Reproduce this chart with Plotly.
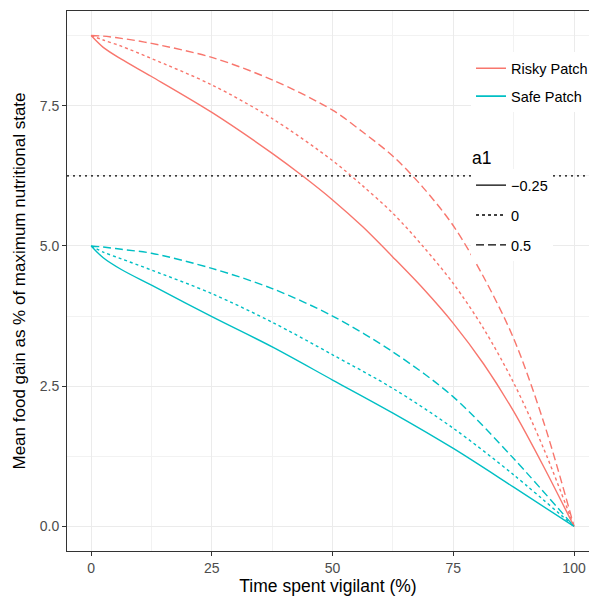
import plotly.graph_objects as go

# --- data ---
risky_m025_x = [0, 2.5, 6.25, 12.5, 25, 37.5, 43.75, 50, 56.25, 62.5, 68.75, 75, 81.25, 87.5, 93.75, 100]
risky_m025_y = [8.75, 8.54, 8.33, 8.02, 7.38, 6.65, 6.25, 5.82, 5.34, 4.80, 4.24, 3.62, 2.90, 2.05, 1.06, 0.0]

risky_0_x = [0, 2.5, 6.25, 12.5, 25, 37.5, 50, 56.25, 62.5, 68.75, 75, 81.25, 87.5, 93.75, 100]
risky_0_y = [8.75, 8.67, 8.56, 8.34, 7.87, 7.27, 6.52, 6.07, 5.58, 4.99, 4.33, 3.53, 2.56, 1.38, 0.0]

risky_05_x = [0, 2.5, 6.25, 12.5, 25, 37.5, 50, 56.25, 62.5, 68.75, 75, 81.25, 87.5, 93.75, 100]
risky_05_y = [8.75, 8.74, 8.70, 8.61, 8.36, 7.96, 7.42, 7.03, 6.60, 6.04, 5.36, 4.45, 3.35, 1.85, 0.0]

safe_m025_x = [0, 2.5, 6.25, 12.5, 25, 37.5, 50, 62.5, 75, 87.5, 100]
safe_m025_y = [5.0, 4.79, 4.58, 4.30, 3.74, 3.20, 2.61, 2.02, 1.39, 0.70, 0.0]

safe_0_x = [0, 2.5, 6.25, 12.5, 25, 37.5, 50, 62.5, 75, 87.5, 100]
safe_0_y = [5.0, 4.89, 4.77, 4.57, 4.15, 3.64, 3.06, 2.46, 1.75, 0.92, 0.0]

safe_05_x = [0, 2.5, 6.25, 12.5, 25, 37.5, 50, 62.5, 75, 87.5, 100]
safe_05_y = [5.0, 4.98, 4.94, 4.87, 4.60, 4.24, 3.75, 3.11, 2.31, 1.21, 0.0]

threshold = 6.25

patches = ["Risky Patch", "Safe Patch"]
a1_levels = ["\u22120.25", "0", "0.5"]
x_ticks = [0, 25, 50, 75, 100]
y_ticks = [0, 2.5, 5, 7.5]

colors = {"Risky Patch": "#F8766D", "Safe Patch": "#00BFC4"}
dashes = {"\u22120.25": "solid", "0": "3px,3px", "0.5": "8px,4px"}

series = {
    ("Risky Patch", "\u22120.25"): (risky_m025_x, risky_m025_y),
    ("Risky Patch", "0"): (risky_0_x, risky_0_y),
    ("Risky Patch", "0.5"): (risky_05_x, risky_05_y),
    ("Safe Patch", "\u22120.25"): (safe_m025_x, safe_m025_y),
    ("Safe Patch", "0"): (safe_0_x, safe_0_y),
    ("Safe Patch", "0.5"): (safe_05_x, safe_05_y),
}

FONT = "Liberation Sans, Arial, sans-serif"

fig = go.Figure()

fig.add_trace(go.Scatter(x=[-5, 105], y=[threshold, threshold], mode="lines",
                         line=dict(color="black", width=1.3, dash="2px,4px"),
                         showlegend=False, hoverinfo="skip"))

for (p, a), (xs, ys) in series.items():
    fig.add_trace(go.Scatter(x=xs, y=ys, mode="lines",
                             line=dict(color=colors[p], width=1.4, dash=dashes[a],
                                       shape="spline", smoothing=0.9),
                             showlegend=False))

for p in patches:
    fig.add_trace(go.Scatter(x=[None], y=[None], mode="lines", name=p,
                             line=dict(color=colors[p], width=1.6),
                             legend="legend", legendgroup=p))
for a in a1_levels:
    fig.add_trace(go.Scatter(x=[None], y=[None], mode="lines", name=a,
                             line=dict(color="black", width=1.4, dash=dashes[a]),
                             legend="legend2", legendgroup="a" + a))

axis_common = dict(
    showgrid=True, gridcolor="#EBEBEB", gridwidth=1,
    zeroline=False, showline=True, linecolor="#333333", linewidth=1,
    ticks="outside", ticklen=4, tickcolor="#333333", tickwidth=1,
    tickfont=dict(family=FONT, size=14, color="#4D4D4D"),
)

fig.update_layout(
    width=593, height=597,
    margin=dict(l=67, r=0, t=11, b=46),
    plot_bgcolor="white", paper_bgcolor="white",
    font=dict(family=FONT, color="black"),
    xaxis=dict(range=[-5, 103.1], tickvals=x_ticks, mirror=True, automargin=False,
               minor=dict(dtick=12.5, tick0=0, showgrid=True, gridcolor="#F2F2F2", gridwidth=0.6),
               title=dict(text="Time spent vigilant (%)", font=dict(size=17.5), standoff=3),
               **axis_common),
    yaxis=dict(range=[-0.4375, 9.1875], tickvals=y_ticks, tickformat=".1f",
               minor=dict(dtick=1.25, tick0=0, showgrid=True, gridcolor="#F2F2F2", gridwidth=0.6),
               title=dict(text="Mean food gain as % of maximum nutritional state",
                          font=dict(size=17), standoff=9),
               **axis_common),
    legend=dict(x=0.774, y=0.9234, xanchor="left", yanchor="top", bgcolor="white",
                font=dict(size=14.5), tracegroupgap=6, itemwidth=30),
    legend2=dict(x=0.774, y=0.707, xanchor="left", yanchor="top", bgcolor="white",
                 font=dict(size=14.5), tracegroupgap=8, itemwidth=30),
    annotations=[dict(text="a1", x=0.772, y=(551 - 158) / 540, xref="paper", yref="paper",
                      xanchor="left", yanchor="middle", showarrow=False,
                      font=dict(size=17.5, family=FONT, color="black"))],
)

fig.write_html("out.html")
